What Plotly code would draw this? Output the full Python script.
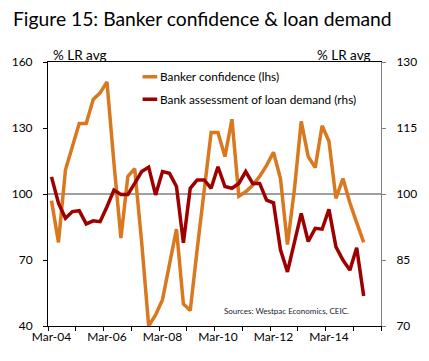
import plotly.graph_objects as go

# Quarterly dates Mar-04 .. Jun-15
quarters = []
for yr in range(2004, 2016):
    for m in (3, 6, 9, 12):
        quarters.append(f"{yr}-{m:02d}-01")
quarters = quarters[:46]

banker_confidence = [97, 78, 111, 121, 132, 132, 143, 146, 151, 114,
                     80, 108, 111.5, 78, 40, 45, 52, 68, 84, 50,
                     47, 75, 103, 128, 128, 117, 134, 99, 101, 104,
                     108, 113, 119, 107, 77, 102, 133, 117, 112, 131,
                     124, 98, 107, 96, 87, 78]

loan_demand = [103.9, 97.9, 94.5, 96.0, 96.2, 93.2, 93.9, 93.7, 97.1, 100.9,
               99.9, 99.9, 102.4, 105.1, 106.1, 99.8, 105.1, 104.7, 101.7, 88.9,
               101.3, 103.2, 103.2, 101.3, 106.2, 101.7, 101.3, 102.4, 105.1, 102.4,
               102.4, 98.6, 98.0, 87.3, 82.3, 88.8, 95.6, 89.2, 92.2, 92.0,
               96.5, 88.0, 85.0, 82.7, 87.8, 76.8]

x_tick_vals = ["2004-03-01", "2006-03-01", "2008-03-01", "2010-03-01", "2012-03-01", "2014-03-01"]
x_tick_text = ["Mar-04", "Mar-06", "Mar-08", "Mar-10", "Mar-12", "Mar-14"]
year_bounds = [f"{y}-01-15" for y in range(2004, 2017)]

series_names = ["Banker confidence (lhs)", "Bank assessment of loan demand (rhs)"]
ORANGE = "#D9781E"
RED = "#9E0000"
FONT = "Lato, Open Sans, sans-serif"

fig = go.Figure()
fig.add_trace(go.Scatter(x=quarters, y=banker_confidence, name=series_names[0],
                         mode="lines", line=dict(color=ORANGE, width=3.5), yaxis="y",
                         showlegend=False))
fig.add_trace(go.Scatter(x=quarters, y=loan_demand, name=series_names[1],
                         mode="lines", line=dict(color=RED, width=3.5), yaxis="y2",
                         showlegend=False))

fig.update_layout(
    width=429, height=361,
    margin=dict(l=44, r=47, t=62, b=35),
    paper_bgcolor="white", plot_bgcolor="white",
    font=dict(family=FONT, size=12, color="black"),
    showlegend=False,
    xaxis=dict(type="date", range=["2004-01-15", "2016-01-15"],
               tickmode="array", tickvals=x_tick_vals, ticktext=x_tick_text,
               ticks="", showgrid=False, zeroline=False,
               showline=True, linecolor="black", linewidth=1, mirror=True,
               minor=dict(tickmode="array", tickvals=year_bounds, ticks="outside",
                          ticklen=4, tickcolor="black", showgrid=False),
               tickfont=dict(size=12)),
    yaxis=dict(range=[40, 160], tickmode="linear", tick0=40, dtick=30,
               ticks="outside", ticklen=4, tickcolor="black",
               showline=True, linecolor="black", linewidth=1,
               showgrid=False, zeroline=False, ticklabelstandoff=8,
               tickfont=dict(size=12)),
    yaxis2=dict(range=[70, 130], tickmode="linear", tick0=70, dtick=15,
                overlaying="y", side="right",
                ticks="outside", ticklen=4, tickcolor="#808080",
                showline=True, linecolor="#808080", linewidth=1,
                showgrid=False, zeroline=False, ticklabelstandoff=8,
                tickfont=dict(size=12)),
)

# reference line at 100
fig.add_shape(type="line", xref="paper", x0=0, x1=1, yref="y", y0=100, y1=100,
              line=dict(color="#404040", width=1), layer="below")

# title
fig.add_annotation(text="Figure 15: Banker confidence & loan demand",
                   xref="paper", yref="paper", x=-0.11, y=1.165,
                   xanchor="left", yanchor="middle", showarrow=False,
                   font=dict(size=19.3, family=FONT))
# axis unit labels
fig.add_annotation(text="% LR avg", xref="paper", yref="paper", x=0.008, y=1.0,
                   xanchor="left", yanchor="bottom", showarrow=False,
                   font=dict(size=13.5), yshift=-3)
fig.add_annotation(text="% LR avg", xref="paper", yref="paper", x=0.975, y=1.0,
                   xanchor="right", yanchor="bottom", showarrow=False,
                   font=dict(size=13.5), yshift=-3)

# manual legend
leg_y = [0.944, 0.859]
for name, col, yy in zip(series_names, [ORANGE, RED], leg_y):
    fig.add_shape(type="line", xref="paper", yref="paper", x0=0.284, x1=0.328,
                  y0=yy, y1=yy, line=dict(color=col, width=3.5))
    fig.add_annotation(text=name, xref="paper", yref="paper", x=0.33, y=yy,
                       xanchor="left", yanchor="middle", showarrow=False,
                       font=dict(size=11.8))

# source
fig.add_annotation(text="Sources: Westpac Economics, CEIC.", xref="paper", yref="paper",
                   x=0.523, y=0.055, xanchor="left", yanchor="middle", showarrow=False,
                   font=dict(size=8, color="#1a1a2e"))

fig.write_html("out.html", config={"displayModeBar": False},
               post_script="document.body.style.margin='0px';")
